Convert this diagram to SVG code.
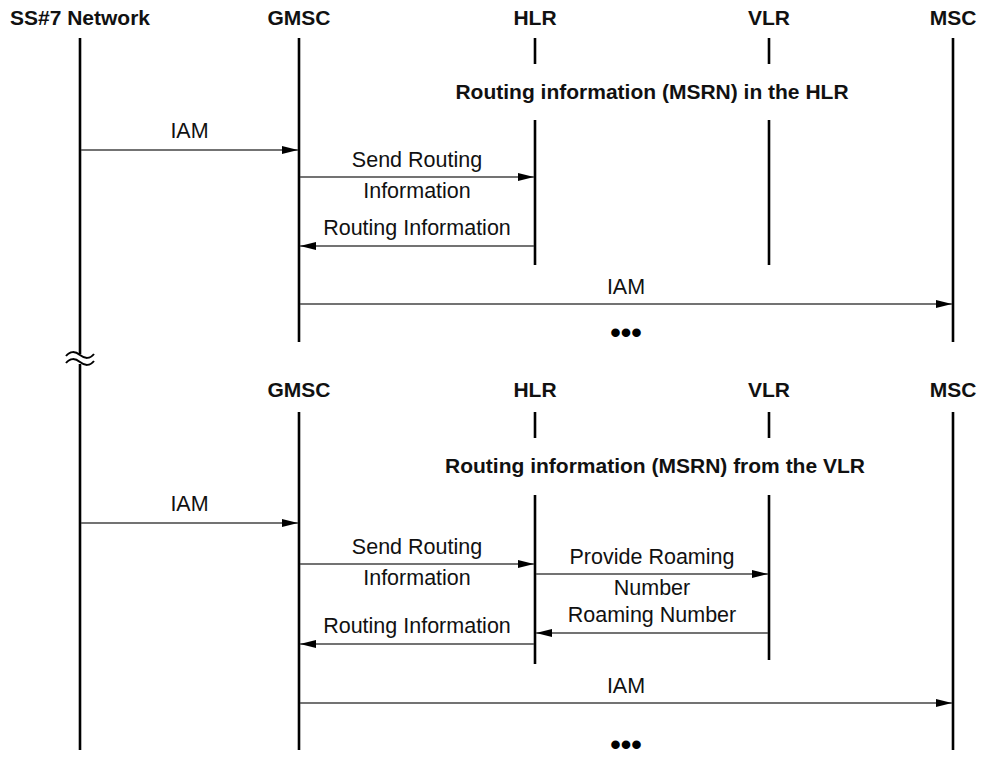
<svg xmlns="http://www.w3.org/2000/svg" width="982" height="762" viewBox="0 0 982 762">
<defs>
<style>
.hdr{font-family:"Liberation Sans",Arial,sans-serif;font-weight:bold;font-size:21px;fill:#111;text-anchor:middle}
.sec{font-family:"Liberation Sans",Arial,sans-serif;font-weight:bold;font-size:21px;fill:#111;text-anchor:middle}
.lbl{font-family:"Liberation Sans",Arial,sans-serif;font-size:21.5px;fill:#111;text-anchor:middle}
.dots{font-family:"Liberation Sans",Arial,sans-serif;font-weight:bold;font-size:30px;fill:#000;text-anchor:middle}
.life{stroke:#000;stroke-width:2.6;fill:none}
.msg{stroke:#444;stroke-width:1.5;fill:none;marker-end:url(#arr)}
.brk{stroke:#000;stroke-width:2;fill:none}
</style>
<marker id="arr" markerUnits="userSpaceOnUse" markerWidth="17" markerHeight="9" refX="16" refY="4" orient="auto">
<path d="M0,0 L16,4 L0,8 z" fill="#000"/>
</marker>
</defs>
<rect width="982" height="762" fill="#fff"/>

<g id="ss7">
<text class="hdr" x="80" y="25">SS#7 Network</text>
<line class="life" x1="80" y1="38" x2="80" y2="354"/>
<line class="life" x1="80" y1="364" x2="80" y2="750"/>
<path class="brk" d="M66,356 c4,-5 9,-5 14,-1 s10,4 14,-1"/>
<path class="brk" d="M66,363 c4,-5 9,-5 14,-1 s10,4 14,-1"/>
</g>

<g id="gmsc1">
<text class="hdr" x="299" y="25">GMSC</text>
<line class="life" x1="299" y1="38" x2="299" y2="342"/>
</g>
<g id="hlr1">
<text class="hdr" x="535" y="25">HLR</text>
<line class="life" x1="535" y1="38" x2="535" y2="64"/>
<line class="life" x1="535" y1="120" x2="535" y2="265"/>
</g>
<g id="vlr1">
<text class="hdr" x="769" y="25">VLR</text>
<line class="life" x1="769" y1="38" x2="769" y2="64"/>
<line class="life" x1="769" y1="120" x2="769" y2="265"/>
</g>
<g id="msc1">
<text class="hdr" x="953" y="25">MSC</text>
<line class="life" x1="953" y1="38" x2="953" y2="342"/>
</g>
<g id="note1">
<text class="sec" x="652" y="99">Routing information (MSRN) in the HLR</text>
</g>

<g id="gmsc2">
<text class="hdr" x="299" y="397">GMSC</text>
<line class="life" x1="299" y1="412" x2="299" y2="750"/>
</g>
<g id="hlr2">
<text class="hdr" x="535" y="397">HLR</text>
<line class="life" x1="535" y1="412" x2="535" y2="438"/>
<line class="life" x1="535" y1="495" x2="535" y2="664"/>
</g>
<g id="vlr2">
<text class="hdr" x="769" y="397">VLR</text>
<line class="life" x1="769" y1="412" x2="769" y2="438"/>
<line class="life" x1="769" y1="495" x2="769" y2="660"/>
</g>
<g id="msc2">
<text class="hdr" x="953" y="397">MSC</text>
<line class="life" x1="953" y1="412" x2="953" y2="750"/>
</g>
<g id="note2">
<text class="sec" x="655" y="473">Routing information (MSRN) from the VLR</text>
</g>

<g id="connectors">
<line class="msg" x1="81" y1="150" x2="298" y2="150"/>
<line class="msg" x1="300" y1="177" x2="534" y2="177"/>
<line class="msg" x1="534" y1="246" x2="300" y2="246"/>
<line class="msg" x1="300" y1="304" x2="952" y2="304"/>
<line class="msg" x1="81" y1="523" x2="298" y2="523"/>
<line class="msg" x1="300" y1="564" x2="534" y2="564"/>
<line class="msg" x1="536" y1="574" x2="768" y2="574"/>
<line class="msg" x1="768" y1="633" x2="536" y2="633"/>
<line class="msg" x1="534" y1="644" x2="300" y2="644"/>
<line class="msg" x1="300" y1="703" x2="952" y2="703"/>
</g>

<g id="labels">
<text class="lbl" x="189.5" y="138">IAM</text>
<text class="lbl" x="417" y="167">Send Routing</text>
<text class="lbl" x="417" y="198">Information</text>
<text class="lbl" x="417" y="235">Routing Information</text>
<text class="lbl" x="626" y="294">IAM</text>
<text class="dots" x="626" y="343">•••</text>
<text class="lbl" x="189.5" y="511">IAM</text>
<text class="lbl" x="417" y="554">Send Routing</text>
<text class="lbl" x="417" y="585">Information</text>
<text class="lbl" x="652" y="564">Provide Roaming</text>
<text class="lbl" x="652" y="595">Number</text>
<text class="lbl" x="652" y="622">Roaming Number</text>
<text class="lbl" x="417" y="633">Routing Information</text>
<text class="lbl" x="626" y="693">IAM</text>
<text class="dots" x="626" y="755">•••</text>
</g>
</svg>
